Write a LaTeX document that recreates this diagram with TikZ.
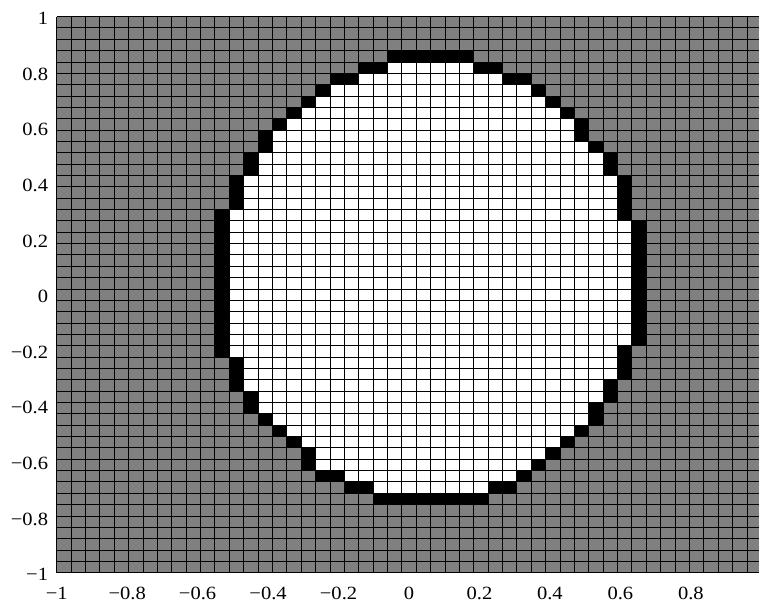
\documentclass[tikz,border=0pt]{standalone}
\usepackage{fontspec}
\setmainfont{Liberation Serif}[FakeStretch=1.1]
\usepackage{tikz}
\definecolor{outgray}{HTML}{808080}

\tikzset{
  gridline/.style={draw=black, line width=0.6pt},
  ticklabel/.style={inner sep=0pt, font=\fontsize{14}{16}\selectfont},
}

\begin{document}
\begin{tikzpicture}[x=10.785pt, y=8.5125pt]
\useasboundingbox (-3.943,-2.581) rectangle (48.84,50.458);
% cells outside the region
\fill[outgray] (0,0) rectangle (49,49);
% row / first and last black cell on the left / on the right
\foreach \r/\a/\b/\c/\d in {6/22/29/22/29, 7/20/21/30/31, 8/18/19/32/32,
    9/17/17/33/33, 10/17/17/34/34, 11/16/16/35/35, 12/15/15/36/36,
    13/14/14/37/37, 14/13/13/37/37, 15/13/13/38/38, 16/12/12/38/38,
    17/12/12/39/39, 18/12/12/39/39, 19/11/11/39/39, 31/11/11/39/39,
    32/12/12/39/39, 33/12/12/39/39, 34/12/12/39/39, 35/13/13/38/38,
    36/13/13/38/38, 37/14/14/37/37, 38/14/14/36/36, 39/15/15/36/36,
    40/16/16/35/35, 41/17/17/34/34, 42/18/18/33/33, 43/19/20/31/32,
    44/21/22/29/30, 45/23/28/23/28}{
  \fill[white] (\b+1,\r) rectangle (\c,\r+1);
  \fill[black] (\a,\r) rectangle (\b+1,\r+1);
  \fill[black] (\c,\r) rectangle (\d+1,\r+1);
}
\foreach \r in {20,...,30}{
  \fill[white] (12,\r) rectangle (40,\r+1);
  \fill[black] (11,\r) rectangle (12,\r+1);
  \fill[black] (40,\r) rectangle (41,\r+1);
}
% grid of cells
\draw[gridline, step=1] (0,0) grid (49,49);
% axis labels
\foreach \p/\t [count=\i] in {0/−1, 4.9/−0.8, 9.8/−0.6, 14.7/−0.4, 19.6/−0.2,
    24.5/0, 29.4/0.2, 34.3/0.4, 39.2/0.6, 44.1/0.8}
  \node[ticklabel, anchor=base] (xtick\i) at (\p,-2.33) {\t};
\foreach \p/\t [count=\i] in {0/−1, 4.9/−0.8, 9.8/−0.6, 14.7/−0.4, 19.6/−0.2,
    24.5/0, 29.4/0.2, 34.3/0.4, 39.2/0.6, 44.1/0.8, 49/1}
  \node[ticklabel, anchor=east, yshift=-1.5pt] (ytick\i) at (-0.58,\p) {\t};
\end{tikzpicture}
\end{document}
